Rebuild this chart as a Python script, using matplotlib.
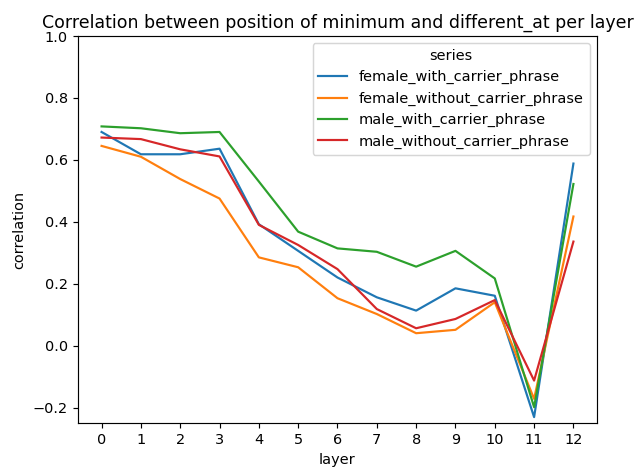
import matplotlib
matplotlib.use('Agg')
import matplotlib.pyplot as plt

layers = list(range(13))

female_with_carrier_phrase = [0.690, 0.618, 0.618, 0.636, 0.392, 0.306, 0.220, 0.156, 0.113, 0.185, 0.161, -0.231, 0.588]
female_without_carrier_phrase = [0.645, 0.610, 0.538, 0.475, 0.285, 0.253, 0.153, 0.102, 0.040, 0.051, 0.140, -0.172, 0.417]
male_with_carrier_phrase = [0.708, 0.702, 0.686, 0.690, 0.530, 0.368, 0.314, 0.303, 0.255, 0.306, 0.217, -0.199, 0.522]
male_without_carrier_phrase = [0.672, 0.667, 0.634, 0.611, 0.390, 0.325, 0.247, 0.118, 0.056, 0.086, 0.147, -0.113, 0.336]

series = {
    'female_with_carrier_phrase': female_with_carrier_phrase,
    'female_without_carrier_phrase': female_without_carrier_phrase,
    'male_with_carrier_phrase': male_with_carrier_phrase,
    'male_without_carrier_phrase': male_without_carrier_phrase,
}

dpi = 104.6
fig, ax = plt.subplots(figsize=(636 / dpi, 470 / dpi), dpi=dpi)
fig.subplots_adjust(left=0.1226, right=0.9387, top=0.9234, bottom=0.1)

for name, vals in series.items():
    ax.plot(layers, vals, label=name)

ax.set_xticks(layers)
ax.set_ylim(-0.25, 1.0)
ax.set_xlabel('layer')
ax.set_ylabel('correlation')
ax.set_title('Correlation between position of minimum and different_at per layer')
ax.legend(title='series', loc='upper right')

plt.savefig('out.png', dpi=dpi)
